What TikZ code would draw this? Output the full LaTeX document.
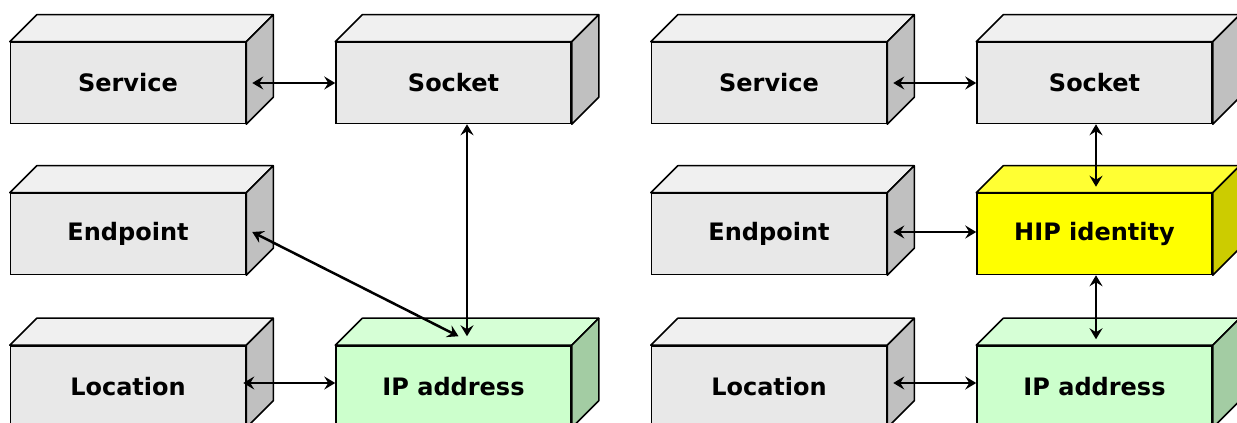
\documentclass[tikz,border=0pt]{standalone}
\usepackage{fontspec}
\setmainfont{DejaVu Sans}
\usetikzlibrary{arrows.meta}
\definecolor{gfront}{HTML}{E8E8E8}
\definecolor{gtop}{HTML}{F0F0F0}
\definecolor{gside}{HTML}{C0C0C0}
\definecolor{nfront}{HTML}{CCFFCC}
\definecolor{ntop}{HTML}{D6FFD6}
\definecolor{nside}{HTML}{A3CCA3}
\definecolor{yfront}{HTML}{FFFF00}
\definecolor{ytop}{HTML}{FFFF33}
\definecolor{yside}{HTML}{CCCC00}
\tikzset{
  box/.style={draw=black, line width=1.5pt, minimum width=235pt, minimum height=81pt,
    inner sep=0pt, font=\fontsize{24}{28}\selectfont\bfseries},
  face/.style={draw=black, line width=1.5pt, line join=round},
  link/.style={line width=2.5pt,
    {Stealth[length=11pt,width=13pt,inset=4pt]}-{Stealth[length=11pt,width=13pt,inset=4pt]}},
}
\newcommand\mycuboid[3]{%
  \filldraw[face, fill=#2] (#1.north west) -- ++(27pt,27pt) -- ([shift={(27pt,27pt)}]#1.north east) -- (#1.north east) -- cycle;
  \filldraw[face, fill=#3] (#1.north east) -- ++(27pt,27pt) -- ([shift={(27pt,27pt)}]#1.south east) -- (#1.south east) -- cycle;
}
\begin{document}
\begin{tikzpicture}[x=1pt,y=1pt]
\fill[white] (0,0) rectangle (1237,423);
\useasboundingbox (0,0) rectangle (1237,423);
% left diagram
\node[box, fill=gfront] (svcL) at (128,340) {Service};
\node[box, fill=gfront] (sockL) at (453.5,340) {Socket};
\node[box, fill=gfront] (epL) at (128,189) {Endpoint};
\node[box, fill=gfront] (locL) at (128,36.5) {Location};
\node[box, fill=nfront] (ipL) at (453.5,36.5) {IP address};
% right diagram
\node[box, fill=gfront] (svcR) at (769,340) {Service};
\node[box, fill=gfront] (sockR) at (1094.5,340) {Socket};
\node[box, fill=gfront] (epR) at (769,189) {Endpoint};
\node[box, fill=yfront] (hipR) at (1094.5,189) {HIP identity};
\node[box, fill=gfront] (locR) at (769,36.5) {Location};
\node[box, fill=nfront] (ipR) at (1094.5,36.5) {IP address};
\mycuboid{svcL}{gtop}{gside}
\mycuboid{sockL}{gtop}{gside}
\mycuboid{epL}{gtop}{gside}
\mycuboid{locL}{gtop}{gside}
\mycuboid{ipL}{ntop}{nside}
\mycuboid{svcR}{gtop}{gside}
\mycuboid{sockR}{gtop}{gside}
\mycuboid{epR}{gtop}{gside}
\mycuboid{hipR}{ytop}{yside}
\mycuboid{locR}{gtop}{gside}
\mycuboid{ipR}{ntop}{nside}
% connectors left
\draw[link] ([xshift=6pt]svcL.east) -- (sockL.west);
\draw[link] ([xshift=13.5pt]sockL.south) -- ([xshift=13.5pt,yshift=9pt]ipL.north);
\draw[link] ([xshift=6pt,yshift=2pt]epL.east) -- ([xshift=5pt,yshift=9pt]ipL.north);
\draw[link] ([xshift=-3pt,yshift=3.5pt]locL.east) -- ([yshift=3.5pt]ipL.west);
% connectors right
\draw[link] ([xshift=6pt]svcR.east) -- (sockR.west);
\draw[link] ([xshift=6pt,yshift=2pt]epR.east) -- ([yshift=2pt]hipR.west);
\draw[link] ([xshift=6pt,yshift=3.5pt]locR.east) -- ([yshift=3.5pt]ipR.west);
\draw[link] ([xshift=1.5pt]sockR.south) -- ([xshift=1.5pt,yshift=6pt]hipR.north);
\draw[link] ([xshift=1.5pt]hipR.south) -- ([xshift=1.5pt,yshift=6pt]ipR.north);
\end{tikzpicture}
\end{document}
